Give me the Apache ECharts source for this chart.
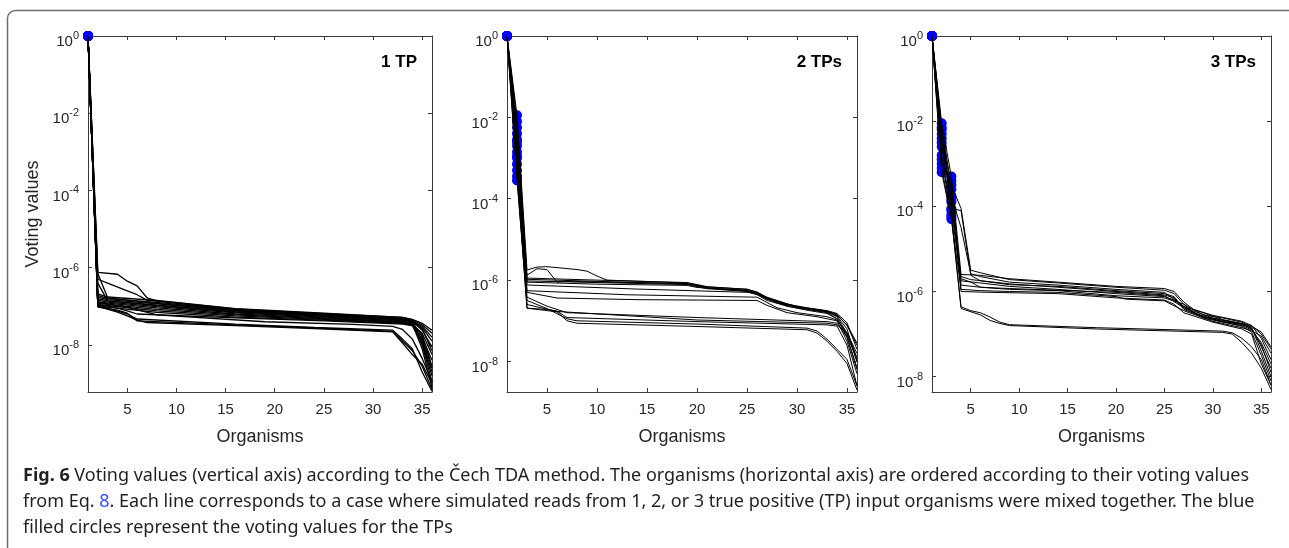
<!DOCTYPE html>
<html>
<head>
<meta charset="utf-8">
<script src="https://cdn.jsdelivr.net/npm/echarts@6/dist/echarts.min.js"></script>
<style>
html, body { margin: 0; padding: 0; background: #fff; }
#chart { width: 1289px; height: 548px; }
</style>
</head>
<body>
<div id="chart"></div>
<script>
// tick marks
var xTicks = [5, 10, 15, 20, 25, 30, 35];
var yTickExp = [-8, -6, -4, -2, 0];
var panelNames = ['1 TP', '2 TPs', '3 TPs'];
var tpCount = [1, 2, 3];
var yBottomExp = [-9.22, -8.75, -8.36]; // lower end of each y axis (log10)

// voting values, as [organism, log10(voting value)]
var tp1Lines = [
  [[1,0],[2,-6.12],[4,-6.17],[5,-6.35],[6,-6.47],[7,-6.78],[8,-6.86],[16,-7.07],[25,-7.19],[33,-7.29],[34,-7.34],[35,-7.44],[36,-7.62]],
  [[1,0],[2,-6.3],[3,-6.4],[5,-6.6],[6,-6.7],[7,-6.84],[16,-7.09],[25,-7.21],[33,-7.31],[34,-7.37],[35,-7.55],[36,-7.9]],
  [[1,0],[2,-6.68],[3,-6.76],[8,-6.85],[16,-7.06],[25,-7.18],[33,-7.29],[34,-7.35],[35,-7.48],[36,-7.7]],
  [[1,0],[2,-6.72],[3,-6.8],[8,-6.9],[16,-7.1],[25,-7.21],[33,-7.32],[34,-7.38],[35,-7.62],[36,-8.05]],
  [[1,0],[2,-6.76],[3,-6.83],[8,-6.94],[16,-7.12],[25,-7.23],[33,-7.34],[34,-7.4],[35,-7.8],[36,-8.4]],
  [[1,0],[2,-6.8],[3,-6.86],[8,-6.98],[16,-7.15],[25,-7.26],[33,-7.36],[34,-7.42],[35,-7.9],[36,-8.7]],
  [[1,0],[2,-6.84],[3,-6.89],[8,-7.01],[16,-7.17],[25,-7.28],[33,-7.38],[34,-7.44],[35,-8.0],[36,-8.95]],
  [[1,0],[2,-6.88],[3,-6.92],[8,-7.04],[16,-7.2],[25,-7.3],[33,-7.4],[34,-7.46],[35,-8.1],[36,-9.1]],
  [[1,0],[2,-6.92],[3,-6.95],[8,-7.08],[16,-7.22],[25,-7.32],[33,-7.41],[34,-7.47],[35,-7.7],[36,-8.25]],
  [[1,0],[2,-6.96],[3,-6.98],[8,-7.12],[16,-7.25],[25,-7.34],[33,-7.43],[34,-7.48],[35,-7.75],[36,-8.55]],
  [[1,0],[2,-7.0],[3,-7.02],[8,-7.16],[16,-7.28],[25,-7.36],[33,-7.44],[34,-7.5],[35,-7.95],[36,-8.8]],
  [[1,0],[2,-6.15],[3,-6.78],[7,-6.9],[16,-7.11],[25,-7.22],[33,-7.33],[34,-7.39],[35,-7.52],[36,-7.8]],
  [[1,0],[2,-6.4],[3,-6.86],[8,-6.97],[16,-7.14],[25,-7.25],[33,-7.35],[34,-7.41],[35,-7.58],[36,-8.15]],
  [[1,0],[2,-6.95],[3,-7.0],[4,-7.05],[5,-7.12],[6,-7.2],[16,-7.3],[25,-7.38],[33,-7.46],[34,-7.5],[35,-7.85],[36,-8.6]],
  [[1,0],[2,-7.02],[4,-7.1],[5,-7.18],[6,-7.38],[16,-7.48],[24,-7.56],[32,-7.65],[33,-7.9],[34,-8.15],[35,-8.55],[36,-9.15]],
  [[1,0],[2,-7.0],[4,-7.15],[5,-7.25],[6,-7.36],[7,-7.42],[16,-7.5],[24,-7.58],[32,-7.66],[33,-7.95],[34,-8.25],[35,-8.5],[36,-9.0]],
  [[1,0],[2,-6.97],[5,-7.2],[6,-7.33],[16,-7.46],[24,-7.55],[32,-7.62],[33,-7.85],[34,-8.1],[35,-8.7],[36,-9.2]],
  [[1,0],[2,-6.9],[5,-7.02],[8,-7.22],[19,-7.4],[28,-7.47],[32,-7.52],[33,-7.6],[34,-7.85],[35,-8.35],[36,-8.95]]
];

var tp2Lines = [
  [[1,0],[2,-1.95],[3,-5.75],[4,-5.68],[5,-5.67],[8,-5.74],[9,-5.78],[10,-5.9],[11,-6.0],[19,-6.07],[20,-6.12],[21,-6.17],[25,-6.22],[26,-6.3],[27,-6.42],[29,-6.58],[30,-6.65],[33,-6.76],[34,-6.84],[35,-7.12],[36,-7.6]],
  [[1,0],[2,-2.1],[3,-5.88],[4,-5.72],[5,-5.74],[6,-6.05],[7,-6.03],[19,-6.09],[20,-6.14],[21,-6.19],[25,-6.25],[26,-6.32],[27,-6.45],[29,-6.6],[31,-6.7],[33,-6.78],[34,-6.9],[35,-7.3],[36,-7.9]],
  [[1,0],[2,-2.25],[3,-5.95],[10,-6.0],[19,-6.06],[20,-6.11],[21,-6.16],[25,-6.23],[26,-6.29],[27,-6.43],[29,-6.59],[31,-6.68],[33,-6.75],[34,-6.82],[35,-7.05],[36,-7.7]],
  [[1,0],[2,-2.4],[3,-5.98],[10,-6.03],[19,-6.09],[20,-6.14],[21,-6.19],[25,-6.26],[26,-6.34],[27,-6.47],[29,-6.62],[31,-6.7],[33,-6.78],[34,-6.88],[35,-7.2],[36,-8.0]],
  [[1,0],[2,-2.55],[3,-6.02],[10,-6.06],[19,-6.11],[20,-6.16],[21,-6.21],[25,-6.28],[26,-6.36],[27,-6.5],[29,-6.64],[31,-6.72],[33,-6.8],[34,-6.95],[35,-7.4],[36,-8.15]],
  [[1,0],[2,-2.7],[3,-6.05],[10,-6.1],[19,-6.13],[20,-6.18],[25,-6.27],[26,-6.33],[28,-6.55],[30,-6.66],[33,-6.77],[34,-6.86],[35,-7.1],[36,-7.55]],
  [[1,0],[2,-2.85],[3,-6.12],[14,-6.22],[25,-6.3],[26,-6.34],[27,-6.46],[29,-6.64],[31,-6.74],[33,-6.82],[34,-6.95],[35,-7.35],[36,-7.95]],
  [[1,0],[2,-3.0],[3,-6.26],[13,-6.36],[26,-6.42],[27,-6.55],[28,-6.68],[30,-6.8],[33,-6.9],[34,-6.98],[35,-7.3],[36,-7.8]],
  [[1,0],[2,-3.15],[3,-6.3],[6,-6.44],[14,-6.48],[26,-6.5],[27,-6.62],[29,-6.8],[32,-6.9],[34,-7.0],[35,-7.5],[36,-8.3]],
  [[1,0],[2,-2.6],[3,-6.42],[5,-6.64],[6,-6.72],[7,-6.8],[20,-6.92],[33,-7.02],[34,-7.06],[35,-7.4],[36,-8.2]],
  [[1,0],[2,-3.3],[3,-6.69],[5,-6.72],[6,-6.76],[7,-6.92],[20,-7.02],[33,-7.1],[34,-7.13],[35,-7.6],[36,-8.6]],
  [[1,0],[2,-3.45],[3,-6.69],[6,-6.78],[7,-7.0],[8,-7.06],[20,-7.14],[31,-7.22],[32,-7.3],[33,-7.5],[34,-7.75],[35,-8.05],[36,-8.7]],
  [[1,0],[2,-3.55],[3,-6.5],[5,-6.7],[7,-6.95],[8,-7.0],[20,-7.08],[31,-7.18],[32,-7.25],[33,-7.45],[34,-7.7],[35,-7.95],[36,-8.6]],
  [[1,0],[2,-2.95],[3,-6.6],[6,-6.77],[20,-6.98],[33,-7.06],[34,-7.1],[35,-7.3],[36,-8.0]]
];

var tp3Lines = [
  [[1,0],[2,-2.05],[3,-3.3],[4,-5.6],[6,-5.62],[9,-5.7],[14,-5.78],[20,-5.88],[25,-5.93],[26,-6.0],[27,-6.25],[28,-6.42],[30,-6.56],[33,-6.7],[34,-6.8],[35,-7.0],[36,-7.35]],
  [[1,0],[2,-2.2],[3,-3.5],[4,-4.05],[5,-5.5],[6,-5.56],[9,-5.72],[14,-5.8],[20,-5.9],[25,-5.97],[26,-6.05],[27,-6.3],[29,-6.55],[31,-6.62],[33,-6.72],[34,-6.85],[35,-7.3],[36,-7.8]],
  [[1,0],[2,-2.4],[3,-3.75],[4,-4.5],[5,-5.58],[6,-5.65],[9,-5.78],[14,-5.85],[20,-5.95],[25,-6.02],[27,-6.35],[29,-6.5],[31,-6.66],[33,-6.75],[34,-6.8],[35,-7.1],[36,-7.6]],
  [[1,0],[2,-2.6],[3,-3.9],[4,-5.65],[5,-5.72],[9,-5.82],[14,-5.9],[20,-6.0],[25,-6.08],[26,-6.15],[27,-6.42],[29,-6.6],[31,-6.7],[33,-6.78],[34,-6.85],[35,-7.4],[36,-8.0]],
  [[1,0],[2,-2.8],[3,-4.1],[4,-5.75],[6,-5.8],[9,-5.88],[14,-5.95],[20,-6.05],[25,-6.12],[26,-6.2],[27,-6.35],[29,-6.62],[31,-6.72],[33,-6.8],[34,-6.9],[35,-7.2],[36,-7.7]],
  [[1,0],[2,-3.0],[3,-3.4],[4,-5.85],[6,-5.9],[9,-5.95],[14,-5.98],[20,-6.1],[25,-6.15],[27,-6.3],[28,-6.5],[30,-6.65],[33,-6.82],[34,-6.95],[35,-7.5],[36,-8.1]],
  [[1,0],[2,-3.2],[3,-4.3],[4,-5.95],[6,-5.98],[9,-6.0],[14,-6.02],[20,-6.12],[21,-6.18],[25,-6.22],[27,-6.45],[30,-6.7],[33,-6.85],[34,-6.92],[35,-7.05],[36,-7.45]],
  [[1,0],[2,-2.3],[3,-3.6],[4,-6.0],[7,-6.02],[14,-6.05],[20,-6.15],[25,-6.2],[26,-6.3],[27,-6.5],[30,-6.72],[33,-6.88],[34,-7.0],[35,-7.7],[36,-8.2]],
  [[1,0],[2,-2.5],[3,-3.85],[4,-5.7],[5,-5.78],[6,-5.9],[9,-5.93],[14,-5.97],[20,-6.02],[25,-6.1],[27,-6.38],[30,-6.62],[33,-6.76],[34,-6.82],[35,-6.95],[36,-7.3]],
  [[1,0],[2,-2.15],[3,-4.05],[4,-4.1],[5,-5.62],[6,-5.75],[9,-5.84],[14,-5.88],[20,-5.98],[25,-6.05],[26,-6.12],[27,-6.4],[29,-6.58],[31,-6.68],[33,-6.77],[34,-6.88],[35,-7.25],[36,-7.9]],
  [[1,0],[2,-2.9],[3,-4.2],[4,-6.36],[5,-6.45],[6,-6.5],[7,-6.6],[8,-6.72],[9,-6.78],[18,-6.85],[31,-6.93],[32,-6.97],[33,-7.1],[34,-7.3],[35,-7.6],[36,-8.2]],
  [[1,0],[2,-3.1],[3,-4.25],[4,-6.4],[6,-6.55],[7,-6.68],[8,-6.75],[9,-6.8],[18,-6.88],[31,-6.96],[32,-7.0],[33,-7.2],[34,-7.45],[35,-7.8],[36,-8.3]]
];

var caption = '{b|Fig. 6} Voting values (vertical axis) according to the Čech TDA method. The organisms (horizontal axis) are ordered according to their voting values\n' +
  'from Eq. {l|8}. Each line corresponds to a case where simulated reads from 1, 2, or 3 true positive (TP) input organisms were mixed together. The blue\n' +
  'filled circles represent the voting values for the TPs';

var panels = [tp1Lines, tp2Lines, tp3Lines];
var grids = [
  { left: 88, top: 36, width: 344, height: 356 },
  { left: 507, top: 36, width: 350, height: 356 },
  { left: 932, top: 36, width: 339, height: 356 }
];
var lineWidths = [1.3, 1, 1];

var axisColor = '#3a3a3a';
var labelColor = '#262626';
var fontFam = '"Liberation Sans", Arial, sans-serif';
var capFont = '"Noto Sans", sans-serif';

function pow10(e) { return Math.pow(10, e); }

var xAxes = [], yAxes = [], series = [], graphics = [];

for (var i = 0; i < 3; i++) {
  grids[i].outerBoundsMode = 'none';
  xAxes.push({
    type: 'value', gridIndex: i, min: 1, max: 36, position: 'bottom',
    name: 'Organisms', nameLocation: 'middle', nameGap: 36,
    nameTextStyle: { fontSize: 18, color: labelColor, fontFamily: fontFam },
    axisLine: { lineStyle: { color: axisColor, width: 1 } },
    axisTick: { inside: true, length: 4, customValues: xTicks, lineStyle: { color: axisColor } },
    axisLabel: { customValues: xTicks, fontSize: 15, color: labelColor, fontFamily: fontFam, margin: 10 },
    splitLine: { show: false }
  });
  xAxes.push({
    type: 'value', gridIndex: i, min: 1, max: 36, position: 'top',
    axisLine: { lineStyle: { color: axisColor, width: 1 } },
    axisTick: { inside: true, length: 4, customValues: xTicks, lineStyle: { color: axisColor } },
    axisLabel: { show: false },
    splitLine: { show: false }
  });
  var yVals = yTickExp.map(pow10);
  yAxes.push({
    type: 'log', logBase: 10, gridIndex: i, position: 'left',
    min: pow10(yBottomExp[i]), max: 1,
    name: i === 0 ? 'Voting values' : '', nameLocation: 'middle', nameGap: 46,
    nameTextStyle: { fontSize: 18, color: labelColor, fontFamily: fontFam },
    axisLine: { lineStyle: { color: axisColor, width: 1 } },
    axisTick: { inside: true, length: 4, customValues: yVals, lineStyle: { color: axisColor } },
    axisLabel: {
      customValues: yVals, margin: 9, padding: [8, 0, 0, 0],
      formatter: function (v) {
        return '{b|10}{s|' + Math.round(Math.log(v) / Math.LN10) + '}';
      },
      rich: {
        b: { fontSize: 15, color: labelColor, fontFamily: fontFam, verticalAlign: 'bottom' },
        s: { fontSize: 11, color: labelColor, fontFamily: fontFam, verticalAlign: 'bottom', padding: [0, 0, 8, 0] }
      }
    },
    splitLine: { show: false }
  });
  yAxes.push({
    type: 'log', logBase: 10, gridIndex: i, position: 'right',
    min: pow10(yBottomExp[i]), max: 1,
    axisLine: { lineStyle: { color: axisColor, width: 1 } },
    axisTick: { inside: true, length: 4, customValues: yVals, lineStyle: { color: axisColor } },
    axisLabel: { show: false },
    splitLine: { show: false }
  });

  var dots = [];
  panels[i].forEach(function (line) {
    series.push({
      type: 'line', xAxisIndex: 2 * i, yAxisIndex: 2 * i,
      data: line.map(function (p) { return [p[0], pow10(p[1])]; }),
      showSymbol: false, symbol: 'none', silent: true,
      lineStyle: { color: '#000', width: lineWidths[i] }
    });
    line.forEach(function (p) {
      if (p[0] <= tpCount[i]) dots.push([p[0], pow10(p[1])]);
    });
  });
  series.push({
    type: 'scatter', xAxisIndex: 2 * i, yAxisIndex: 2 * i,
    data: dots, symbolSize: 10, clip: false, silent: true, z: 1,
    itemStyle: { color: '#0000ff', opacity: 1 }
  });

  graphics.push({
    type: 'text', x: grids[i].left + grids[i].width - 15, y: 62,
    style: {
      text: panelNames[i], align: 'right', verticalAlign: 'middle',
      fontSize: 17, fontWeight: 'bold', fontFamily: fontFam, fill: '#000'
    }
  });
}

graphics.push({
  type: 'rect', silent: true,
  shape: { x: 7.5, y: 10.5, width: 1300, height: 560, r: 8 },
  style: { fill: 'none', stroke: '#707070', lineWidth: 1.5 }
});
graphics.push({
  type: 'text', x: 23, y: 463,
  style: {
    text: caption, fill: '#231f20', fontSize: 18, lineHeight: 26,
    fontFamily: capFont,
    rich: {
      b: { fontWeight: 'bold', fontSize: 18, fill: '#231f20', fontFamily: capFont, lineHeight: 26 },
      l: { fontSize: 18, fill: '#3b4cff', fontFamily: capFont, lineHeight: 26 }
    }
  }
});

var myChart = echarts.init(document.getElementById('chart'), null, { renderer: 'canvas' });
myChart.setOption({
  animation: false,
  backgroundColor: '#fff',
  grid: grids,
  xAxis: xAxes,
  yAxis: yAxes,
  series: series,
  graphic: graphics
});
</script>
</body>
</html>
